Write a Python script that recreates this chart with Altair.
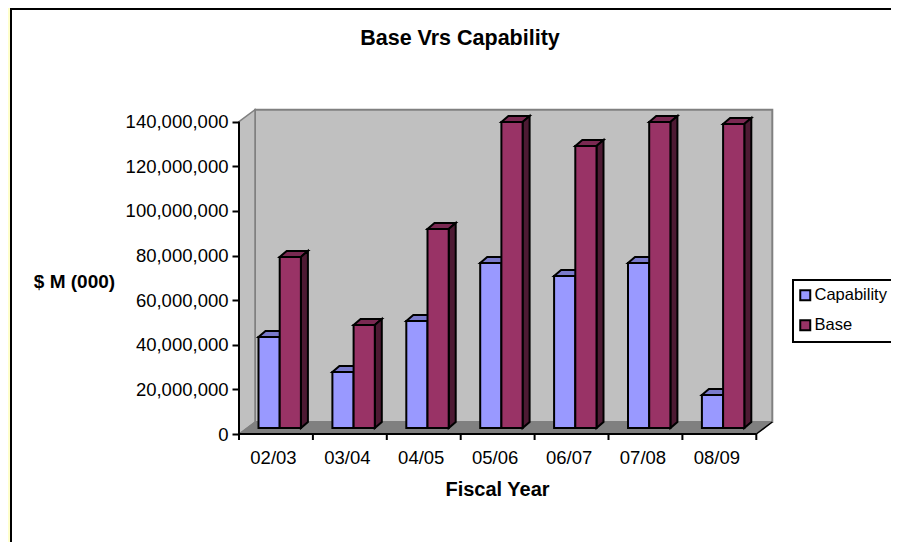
import altair as alt
import pandas as pd

FONT = "Liberation Sans"
CATS = ["02/03", "03/04", "04/05", "05/06", "06/07", "07/08", "08/09"]
CAPABILITY = [40.8e6, 25.1e6, 48.0e6, 74.0e6, 68.1e6, 74.0e6, 14.8e6]
BASE = [76.7e6, 46.2e6, 89.2e6, 137.2e6, 126.4e6, 137.2e6, 136.3e6]
Y_TICKS = [0, 20e6, 40e6, 60e6, 80e6, 100e6, 120e6, 140e6]

# layout constants (pixels inside the plot area)
W, H = 534, 324
CAT_PX = 73.9
VAL_PX = 140e6 / 312.3           # data units per pixel
XU = 1 / CAT_PX                  # x data units per pixel
WALL_DX, WALL_DY = 16 * XU, 12 * VAL_PX
BAR_DX, BAR_DY = 7 * XU, 6 * VAL_PX
BAR_X0, BAR_LIFT = 19.5 * XU, 6 * VAL_PX
BAR_W = 21.2 * XU

COLORS = {"Capability": "#9999FF", "Base": "#993366",
          "Capability top": "#7A7ACC", "Base top": "#7A2952",
          "Capability side": "#4D4D80", "Base side": "#4D1A33"}

n = len(CATS)
x_scale = alt.Scale(domain=[0, W / CAT_PX], nice=False, zero=False)
y_scale = alt.Scale(domain=[0, H * VAL_PX], nice=False, zero=False)
fill_scale = alt.Scale(domain=list(COLORS), range=list(COLORS.values()))

x_axis = alt.Axis(
    values=[i + 0.5 for i in range(n)], zindex=1, labelOffset=-3,
    labelExpr="[" + ",".join(f"'{c}'" for c in CATS) + "][datum.value - 0.5]",
    domain=False, grid=False, ticks=False, labelFont=FONT, labelFontSize=18.5, labelColor="black",
    labelPadding=14, title="Fiscal Year", titleFont=FONT, titleFontSize=20, titleFontWeight="bold",
    titleColor="black", titleX=258, titleY=55, titleAlign="center", titleBaseline="middle")
y_axis = alt.Axis(
    values=Y_TICKS, zindex=1, format=",.0f", domain=False, grid=False, ticks=True, tickSize=7, tickWidth=2,
    tickColor="black", labelFont=FONT, labelFontSize=18.5, labelColor="black", labelPadding=4,
    title="$ M (000)", titleAngle=0, titleFont=FONT, titleFontSize=19, titleFontWeight="bold",
    titleColor="black", titleX=-165, titleY=171, titleAlign="center", titleBaseline="middle")
legend = alt.Legend(
    title=None, orient="none", legendX=554, legendY=170, values=["Capability", "Base"],
    symbolType="square", symbolSize=100, symbolStrokeColor="black", symbolStrokeWidth=2, symbolOffset=-3,
    labelFont=FONT, labelFontSize=16.5, labelColor="black", labelLimit=200, labelOffset=1, rowPadding=11,
    strokeColor="black", fillColor="white", padding=7)

rows_front, rows_side, rows_top = [], [], []
for s_idx, (name, vals) in enumerate([("Capability", CAPABILITY), ("Base", BASE)]):
    for i, v in enumerate(vals):
        xl = i + BAR_X0 + s_idx * BAR_W
        xr = xl + BAR_W
        y0 = BAR_LIFT
        yt = v + BAR_LIFT
        rows_front.append(dict(s=name, x=xl, x2=xr, y=y0, y2=yt))
        k = f"{name}{i}"
        rows_top += [dict(k=k, s=name, f=name + " top", y=yt, x=xl, x2=xr),
                     dict(k=k, s=name, f=name + " top", y=yt + BAR_DY, x=xl + BAR_DX, x2=xr + BAR_DX)]
        rows_side += [dict(k=k, s=name, f=name + " side", x=xr, y=yt, y2=y0),
                      dict(k=k, s=name, f=name + " side", x=xr + BAR_DX, y=yt + BAR_DY, y2=y0 + BAR_DY)]
front = pd.DataFrame(rows_front)
top = pd.DataFrame(rows_top)
side = pd.DataFrame(rows_side)

X = lambda f: alt.X(f, type="quantitative", scale=x_scale, axis=x_axis)
Y = lambda f: alt.Y(f, type="quantitative", scale=y_scale, axis=y_axis)
FILL = lambda f, t="nominal": alt.Fill(f, type=t, scale=fill_scale, legend=legend)

GREY = "#808080"
frame = alt.Chart(pd.DataFrame({"a": [0]})).mark_rect(fill="white", stroke="black", strokeWidth=2).encode(
    x=alt.value(-228), x2=alt.value(700), y=alt.value(-101), y2=alt.value(600))

back_wall = alt.Chart(pd.DataFrame([dict(x=WALL_DX, x2=n + WALL_DX, y=WALL_DY, y2=140e6 + WALL_DY)])).mark_rect(
    fill="#C0C0C0", stroke=GREY, strokeWidth=2).encode(x=X("x"), x2="x2", y=Y("y"), y2="y2")
left_wall = alt.Chart(pd.DataFrame([dict(x=0, y=140e6, y2=0), dict(x=WALL_DX, y=140e6 + WALL_DY, y2=WALL_DY)])).mark_area(
    fill="#C0C0C0", stroke=GREY, strokeWidth=1.5).encode(x=X("x"), y=Y("y"), y2="y2")
floor = alt.Chart(pd.DataFrame([dict(y=0, x=0, x2=n), dict(y=WALL_DY, x=WALL_DX, x2=n + WALL_DX)])).mark_area(
    orient="horizontal", fill=GREY, stroke=GREY, strokeWidth=1).encode(y=Y("y"), x=X("x"), x2="x2")
floor_edge = alt.Chart(pd.DataFrame([dict(x=n, y=0), dict(x=n + WALL_DX, y=WALL_DY)])).mark_line(
    color="black", strokeWidth=1.5).encode(x=X("x"), y=Y("y"))
y_line = alt.Chart(pd.DataFrame([dict(x=0, y=0, y2=140e6)])).mark_rule(color="black", strokeWidth=2).encode(
    x=X("x"), y=Y("y"), y2="y2")
x_line = alt.Chart(pd.DataFrame([dict(x=0, x2=n, y=0)])).mark_rule(color="black", strokeWidth=2).encode(
    x=X("x"), x2="x2", y=Y("y"))
x_ticks = alt.Chart(pd.DataFrame({"x": list(range(n + 1))})).mark_rule(color="black", strokeWidth=2).encode(
    x=X("x"), y=alt.value(H), y2=alt.value(H + 6))


def top_layer(name):
    return alt.Chart(top[top.s == name]).mark_area(orient="horizontal", stroke="black", strokeWidth=2).encode(
        y=Y("y"), x=X("x"), x2="x2", fill=FILL("f"), detail="k:N")


def side_layer(name):
    return alt.Chart(side[side.s == name]).mark_area(stroke="black", strokeWidth=2).encode(
        x=X("x"), y=Y("y"), y2="y2", fill=FILL("f"), detail="k:N")


def front_layer(name):
    return alt.Chart(front[front.s == name]).mark_rect(stroke="black", strokeWidth=2).encode(
        x=X("x"), x2="x2", y=Y("y"), y2="y2", fill=FILL("s"))


chart = alt.layer(
    frame, back_wall, left_wall, floor, floor_edge, y_line, x_line, x_ticks,
    top_layer("Capability"), front_layer("Capability"),
    top_layer("Base"), side_layer("Base"), front_layer("Base"),
).properties(
    width=W, height=H,
    padding={"left": 231, "top": 102, "right": 118, "bottom": 108},
    autosize=alt.AutoSizeParams(type="none"),
    background="#FFFFCC",
    title=alt.TitleParams("Base Vrs Capability", font=FONT, fontSize=21.5, fontWeight="bold", color="black",
                          anchor="middle", dx=-46, dy=45),
).configure_view(stroke=None).configure_legend(strokeWidth=2)

chart.save("out.html", embed_options={"renderer": "svg", "actions": False})
